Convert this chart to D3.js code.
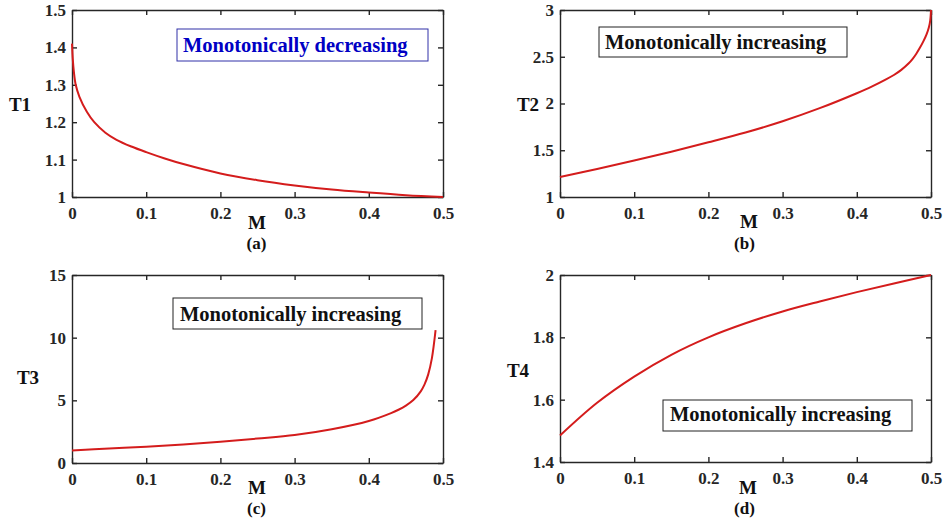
<!DOCTYPE html>
<html>
<head>
<meta charset="utf-8">
<script src="https://cdn.jsdelivr.net/npm/d3@7"></script>
<style>
  body { margin: 0; background: #fff; }
  svg { display: block; }
</style>
</head>
<body>
<svg width="946" height="529"></svg>
<script>

// Values
const xTicks = [0, 0.1, 0.2, 0.3, 0.4, 0.5];

const mA = [0, 0.001, 0.0025, 0.005, 0.01, 0.02, 0.03, 0.045, 0.06, 0.08, 0.1, 0.125, 0.15, 0.2, 0.25, 0.3, 0.35, 0.4, 0.45, 0.5];
const t1 = [1.41, 1.37, 1.335, 1.30, 1.268, 1.228, 1.200, 1.172, 1.153, 1.135, 1.12, 1.103, 1.088, 1.063, 1.045, 1.031, 1.02, 1.012, 1.005, 1.0];
const t1Ticks = [1, 1.1, 1.2, 1.3, 1.4, 1.5];

const mB = [0, 0.05, 0.1, 0.15, 0.2, 0.25, 0.3, 0.35, 0.4, 0.42, 0.44, 0.45, 0.46, 0.47, 0.475, 0.48, 0.485, 0.49, 0.494, 0.497, 0.499, 0.5];
const t2 = [1.215, 1.30, 1.39, 1.485, 1.585, 1.69, 1.81, 1.95, 2.11, 2.18, 2.26, 2.305, 2.36, 2.43, 2.475, 2.53, 2.595, 2.67, 2.74, 2.81, 2.89, 3.0];
const t2Ticks = [1, 1.5, 2, 2.5, 3];

const mC = [0, 0.05, 0.1, 0.15, 0.2, 0.25, 0.3, 0.35, 0.4, 0.43, 0.44, 0.45, 0.46, 0.47, 0.475, 0.48, 0.485, 0.49];
const t3 = [1.0, 1.15, 1.3, 1.48, 1.7, 1.95, 2.23, 2.69, 3.35, 3.98, 4.25, 4.58, 5.02, 5.72, 6.25, 7.05, 8.35, 10.6];
const t3Ticks = [0, 5, 10, 15];

const mD = [0, 0.05, 0.1, 0.15, 0.2, 0.25, 0.3, 0.35, 0.4, 0.45, 0.5];
const t4 = [1.485, 1.59, 1.674, 1.744, 1.80, 1.845, 1.883, 1.915, 1.945, 1.973, 2.0];
const t4Ticks = [1.4, 1.6, 1.8, 2];

const legendTexts = ["Monotonically decreasing", "Monotonically increasing", "Monotonically increasing", "Monotonically increasing"];
const yLabels = ["T1", "T2", "T3", "T4"];
const captions = ["(a)", "(b)", "(c)", "(d)"];

// Panel layout (pixels)
const panels = [
  { m: mA, t: t1, yDomain: [1, 1.5], yTicks: t1Ticks, left: 72, right: 443, top: 10, bottom: 197,
    yLabelX: 20, yLabelY: 111, mX: 257, mY: 229, capY: 249,
    box: [177, 29, 251, 32], boxText: 183, boxBase: 52, color: "#0000c4", boxStroke: "#3030a8" },
  { m: mB, t: t2, yDomain: [1, 3], yTicks: t2Ticks, left: 560, right: 931, top: 10, bottom: 197,
    yLabelX: 528, yLabelY: 111, mX: 749, mY: 228, capY: 249,
    box: [599, 27, 248, 30], boxText: 605, boxBase: 49, color: "#111", boxStroke: "#222" },
  { m: mC, t: t3, yDomain: [0, 15], yTicks: t3Ticks, left: 72, right: 443, top: 275, bottom: 463,
    yLabelX: 28, yLabelY: 384, mX: 257, mY: 494, capY: 514,
    box: [173, 298, 249, 31], boxText: 180, boxBase: 321, color: "#111", boxStroke: "#222" },
  { m: mD, t: t4, yDomain: [1.4, 2], yTicks: t4Ticks, left: 560, right: 931, top: 275, bottom: 462,
    yLabelX: 518, yLabelY: 377, mX: 748, mY: 494, capY: 514,
    box: [663, 400, 249, 31], boxText: 670, boxBase: 421, color: "#111", boxStroke: "#222" }
];

const svg = d3.select("svg");
const font = "'Liberation Serif', 'Times New Roman', Times, serif";
const axisColor = "#262626";
const fmt = d3.format("~g");

panels.forEach(function (p, i) {

  const x = d3.scaleLinear().domain([0, 0.5]).range([p.left, p.right]);
  const y = d3.scaleLinear().domain(p.yDomain).range([p.bottom, p.top]);

  const g = svg.append("g");

  // Box axes with inward ticks
  g.append("g")
      .attr("transform", "translate(0," + p.bottom + ")")
      .call(d3.axisBottom(x).tickValues(xTicks).tickFormat(fmt).tickSizeInner(-5).tickSizeOuter(0).tickPadding(10));
  g.append("g")
      .attr("transform", "translate(0," + p.top + ")")
      .call(d3.axisTop(x).tickValues(xTicks).tickFormat("").tickSizeInner(-5).tickSizeOuter(0));
  g.append("g")
      .attr("transform", "translate(" + p.left + ",0)")
      .call(d3.axisLeft(y).tickValues(p.yTicks).tickFormat(fmt).tickSizeInner(-5).tickSizeOuter(0).tickPadding(6));
  g.append("g")
      .attr("transform", "translate(" + p.right + ",0)")
      .call(d3.axisRight(y).tickValues(p.yTicks).tickFormat("").tickSizeInner(-5).tickSizeOuter(0));

  g.selectAll(".domain, .tick line")
      .attr("stroke", axisColor)
      .attr("stroke-width", 1.4);
  g.selectAll(".tick text")
      .attr("fill", "#262626")
      .style("font-family", font)
      .style("font-weight", "bold")
      .style("font-size", "17px");

  // Curve
  const line = d3.line()
      .x(function (d) { return x(d[0]); })
      .y(function (d) { return y(d[1]); })
      .curve(d3.curveCatmullRom.alpha(0.5));

  g.append("path")
      .datum(d3.zip(p.m, p.t))
      .attr("fill", "none")
      .attr("stroke", "#d41c1c")
      .attr("stroke-width", 2)
      .attr("d", line);

  // Legend box
  g.append("rect")
      .attr("x", p.box[0])
      .attr("y", p.box[1])
      .attr("width", p.box[2])
      .attr("height", p.box[3])
      .attr("fill", "#fff")
      .attr("stroke", p.boxStroke)
      .attr("stroke-width", 1);
  g.append("text")
      .attr("x", p.boxText)
      .attr("y", p.boxBase)
      .attr("fill", p.color)
      .style("font-family", font)
      .style("font-weight", "bold")
      .style("font-size", "20.5px")
      .text(legendTexts[i]);

  // Axis labels and caption
  const labels = [
    { text: yLabels[i], x: p.yLabelX, y: p.yLabelY, size: 19 },
    { text: "M", x: p.mX, y: p.mY, size: 19 },
    { text: captions[i], x: (p.left + p.right) / 2 - 1, y: p.capY, size: 17 }
  ];
  g.selectAll(".label")
      .data(labels).enter()
      .append("text")
      .attr("class", "label")
      .attr("x", function (d) { return d.x; })
      .attr("y", function (d) { return d.y; })
      .attr("text-anchor", "middle")
      .attr("fill", "#111")
      .style("font-family", font)
      .style("font-weight", "bold")
      .style("font-size", function (d) { return d.size + "px"; })
      .text(function (d) { return d.text; });
});

</script>
</body>
</html>
